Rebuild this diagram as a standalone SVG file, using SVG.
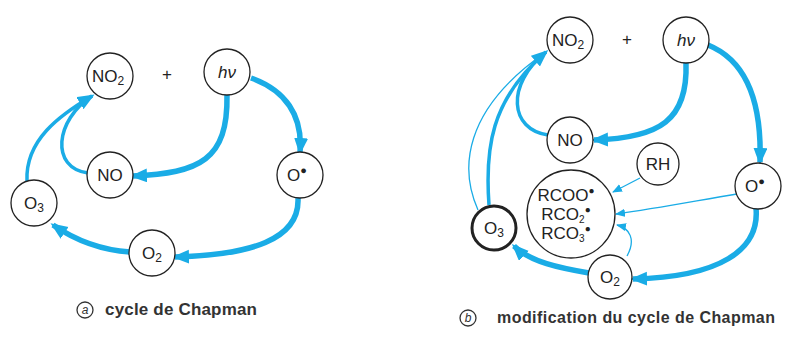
<svg xmlns="http://www.w3.org/2000/svg" width="787" height="342" viewBox="0 0 787 342">
<style>
.n{fill:#fff;stroke:#222;stroke-width:1.3}
.t{font-family:"Liberation Sans",Arial,sans-serif;font-size:17px;fill:#222;text-anchor:middle}
.k{fill:none;stroke:#1aace6;stroke-width:5.5}
.m{fill:none;stroke:#1aace6;stroke-width:3.5}
.f{fill:none;stroke:#1aace6;stroke-width:1.3}
.cap{font-family:"Liberation Sans",Arial,sans-serif;font-weight:bold;fill:#333}
.cl{font-family:"Liberation Sans",Arial,sans-serif;font-size:12px;font-style:italic;fill:#333;text-anchor:middle}
</style>
<defs>
<marker id="ah" markerUnits="userSpaceOnUse" markerWidth="18" markerHeight="16" refX="14" refY="7" orient="auto"><path d="M0,0 L17,7 L0,14 z" fill="#1aace6"/></marker>
<marker id="ahs" markerUnits="userSpaceOnUse" markerWidth="12" markerHeight="10" refX="9" refY="4" orient="auto"><path d="M0,0 L10,4 L0,8 z" fill="#1aace6"/></marker>
</defs>
<g id="connectors">
<path class="k" d="M251,78 C285,90 303,115 300,152" marker-end="url(#ah)"/>
<path class="k" d="M227,95 C228,160 200,173 133,176" marker-end="url(#ah)"/>
<path class="m" d="M88,173 C50,168 55,120 92,96"/>
<path class="m" d="M27,181 C25,140 60,115 92,96" marker-end="url(#ah)"/>
<path class="k" d="M298,198 C300,240 250,255 175,257" marker-end="url(#ah)"/>
<path class="k" d="M130,252 C100,250 75,240 53,225" marker-end="url(#ah)"/>

<path class="k" d="M708,45 C745,60 762,100 760,162" marker-end="url(#ah)"/>
<path class="k" d="M686,63 C688,120 660,138 594,140" marker-end="url(#ah)"/>
<path class="m" d="M548,135 C510,130 505,85 546,52"/>
<path class="f" d="M478,210 C460,170 462,110 546,52"/>
<path class="m" d="M489,205 C485,150 490,100 546,52" marker-end="url(#ah)"/>
<path class="f" d="M640,178 L613,192" marker-end="url(#ahs)"/>
<path class="f" d="M737,194 C700,200 660,208 616,214" marker-end="url(#ahs)"/>
<path class="f" d="M627,256 C636,240 630,228 617,225" marker-end="url(#ahs)"/>
<path class="k" d="M756,208 C760,250 720,277 633,279" marker-end="url(#ah)"/>
<path class="k" d="M589,273 C560,268 530,262 514,246" marker-end="url(#ah)"/>
</g>

<g id="a-NO2"><circle class="n" cx="110" cy="76" r="23"/><text class="t" x="108" y="82">NO<tspan font-size="12" dy="3">2</tspan></text></g>
<g id="a-plus"><text class="t" x="167" y="80" font-size="14">+</text></g>
<g id="a-hv"><circle class="n" cx="227" cy="72" r="23"/><text class="t" x="227" y="78" font-style="italic">hν</text></g>
<g id="a-NO"><circle class="n" cx="110" cy="175" r="23"/><text class="t" x="110" y="181">NO</text></g>
<g id="a-O"><circle class="n" cx="300" cy="175" r="23"/><text class="t" x="297" y="181">O<tspan font-size="11" dy="-7">●</tspan></text></g>
<g id="a-O3"><circle class="n" cx="34" cy="203" r="23"/><text class="t" x="34" y="209">O<tspan font-size="12" dy="3">3</tspan></text></g>
<g id="a-O2"><circle class="n" cx="152" cy="253" r="23"/><text class="t" x="152" y="259">O<tspan font-size="12" dy="3">2</tspan></text></g>

<g id="b-NO2"><circle class="n" cx="570" cy="40" r="23"/><text class="t" x="568" y="46">NO<tspan font-size="12" dy="3">2</tspan></text></g>
<g id="b-plus"><text class="t" x="627" y="45" font-size="14">+</text></g>
<g id="b-hv"><circle class="n" cx="686" cy="40" r="23"/><text class="t" x="686" y="46" font-style="italic">hν</text></g>
<g id="b-NO"><circle class="n" cx="570" cy="140" r="23"/><text class="t" x="570" y="146">NO</text></g>
<g id="b-RH"><circle class="n" cx="658" cy="164" r="21"/><text class="t" x="658" y="170">RH</text></g>
<g id="b-O"><circle class="n" cx="758" cy="186" r="23"/><text class="t" x="755" y="192">O<tspan font-size="11" dy="-7">●</tspan></text></g>
<g id="b-RCOO"><circle class="n" cx="571" cy="214" r="44"/>
<text class="t" x="566" y="201" font-size="15">RCOO<tspan font-size="10" dy="-7">●</tspan></text>
<text class="t" x="566" y="220" font-size="15">RCO<tspan font-size="10" dy="3">2</tspan><tspan font-size="10" dy="-10">●</tspan></text>
<text class="t" x="566" y="239" font-size="15">RCO<tspan font-size="10" dy="3">3</tspan><tspan font-size="10" dy="-10">●</tspan></text></g>
<g id="b-O3"><circle class="n" cx="494" cy="228" r="22" style="stroke-width:3"/><text class="t" x="494" y="234">O<tspan font-size="12" dy="3">3</tspan></text></g>
<g id="b-O2"><circle class="n" cx="610" cy="277" r="22"/><text class="t" x="610" y="283">O<tspan font-size="12" dy="3">2</tspan></text></g>

<g id="caption-a"><circle cx="85" cy="310" r="8" fill="none" stroke="#333" stroke-width="1.3"/><text class="cl" x="85" y="314">a</text>
<text class="cap" x="105" y="315" font-size="17" textLength="152">cycle de Chapman</text></g>
<g id="caption-b"><circle cx="468" cy="318" r="8" fill="none" stroke="#333" stroke-width="1.3"/><text class="cl" x="468" y="322">b</text>
<text class="cap" x="497" y="323" font-size="16" textLength="278">modification du cycle de Chapman</text></g>
</svg>
